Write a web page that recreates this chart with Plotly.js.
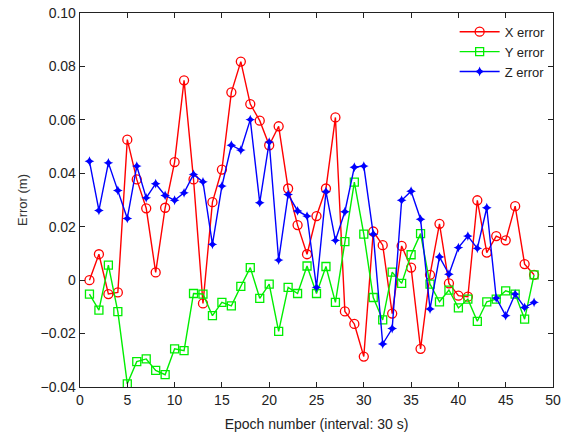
<!DOCTYPE html>
<html>
<head>
<meta charset="utf-8">
<script src="https://cdn.plot.ly/plotly-3.0.1.min.js"></script>
<style>html,body{margin:0;padding:0;background:#fff;}#chart{width:567px;height:439px;}</style>
</head>
<body>
<div id="chart"></div>
<script>
const epochs = [1,2,3,4,5,6,7,8,9,10,11,12,13,14,15,16,17,18,19,20,21,22,23,24,25,26,27,28,29,30,31,32,33,34,35,36,37,38,39,40,41,42,43,44,45,46,47,48];
const xError = [0.000,0.0097,-0.0052,-0.0046,0.0526,0.0377,0.0269,0.0029,0.0271,0.0442,0.0748,0.0377,-0.0087,0.0292,0.0414,0.0703,0.0818,0.0659,0.0597,0.0505,0.0576,0.0343,0.0206,0.0097,0.0240,0.0343,0.0609,-0.0117,-0.0164,-0.0286,0.0182,0.0131,-0.0125,0.0128,0.0047,-0.0257,0.0020,0.0211,-0.0012,-0.0058,-0.0062,0.0299,0.0103,0.0165,0.0149,0.0277,0.0060,0.0020];
const yError = [-0.0052,-0.0112,0.0056,-0.0118,-0.0388,-0.0305,-0.0295,-0.0338,-0.0354,-0.0257,-0.0264,-0.0050,-0.0052,-0.0133,-0.0083,-0.0096,-0.0023,0.0047,-0.0068,-0.0015,-0.0192,-0.0027,-0.0050,0.0053,-0.0050,0.0051,-0.0083,0.0144,0.0367,0.0172,-0.0065,-0.0149,0.0030,-0.0012,0.0095,0.0174,-0.0015,-0.0081,-0.0037,-0.0104,-0.0071,-0.0154,-0.0081,-0.0071,-0.0040,-0.0052,-0.0146,0.0020];
const zError = [0.0445,0.0261,0.0439,0.0336,0.0231,0.0427,0.0308,0.0361,0.0317,0.0299,0.0327,0.0396,0.0368,0.0134,0.0352,0.0505,0.0487,0.0601,0.0290,0.0517,0.0075,0.0321,0.0259,0.0240,-0.0027,0.0331,0.0149,0.0256,0.0423,0.0427,0.0172,-0.0239,-0.0181,0.0299,0.0333,0.0228,-0.0108,0.0087,0.0022,0.0122,0.0165,0.0119,0.0271,-0.0067,-0.0133,-0.0052,-0.0102,-0.0083];
const xTicks = [0,5,10,15,20,25,30,35,40,45,50];
const yTicks = [-0.04,-0.02,0,0.02,0.04,0.06,0.08,0.10];
const yTickText = ['\u22120.04','\u22120.02','0','0.02','0.04','0.06','0.08','0.10'];

const traces = [
  {x: epochs, y: xError, name: 'X error', mode: 'lines+markers',
   line: {color: '#ff0000', width: 1.4},
   marker: {symbol: 'circle-open', size: 9, color: '#ff0000', line: {width: 1.3}}},
  {x: epochs, y: yError, name: 'Y error', mode: 'lines+markers',
   line: {color: '#00ee00', width: 1.4},
   marker: {symbol: 'square-open', size: 8, color: '#00ee00', line: {width: 1.3}}},
  {x: epochs, y: zError, name: 'Z error', mode: 'lines+markers',
   line: {color: '#0000ff', width: 1.4},
   marker: {symbol: 'star-diamond', size: 7, color: '#0000ff'}}
];

const layout = {
  width: 567, height: 439,
  margin: {l: 80, r: 14, t: 13, b: 52},
  paper_bgcolor: '#fff', plot_bgcolor: '#fff',
  font: {family: 'Liberation Sans, Arial, sans-serif', size: 14, color: '#222'},
  showlegend: true,
  legend: {x: 0.995, y: 0.99, xanchor: 'right', yanchor: 'top', bgcolor: 'rgba(255,255,255,0)',
           borderwidth: 0, font: {size: 13, color: '#222'}, tracegroupgap: 0, itemwidth: 40},
  xaxis: {range: [0, 50], tickvals: xTicks, ticks: 'inside', ticklen: 5, tickcolor: '#222',
          showline: true, linecolor: '#222', linewidth: 1.3, mirror: 'ticks', showgrid: false, zeroline: false,
          title: {text: 'Epoch number (interval: 30 s)', font: {size: 14, color: '#222'}, standoff: 12},
          tickfont: {size: 14}},
  yaxis: {range: [-0.04, 0.10], tickvals: yTicks, ticktext: yTickText, ticks: 'inside', ticklen: 5, tickcolor: '#222',
          showline: true, linecolor: '#222', linewidth: 1.3, mirror: 'ticks', showgrid: false, zeroline: false,
          title: {text: 'Error (m)', font: {size: 13, color: '#333'}, standoff: 10},
          tickfont: {size: 14}}
};

Plotly.newPlot('chart', traces, layout, {displayModeBar: false, staticPlot: true});
</script>
</body>
</html>
